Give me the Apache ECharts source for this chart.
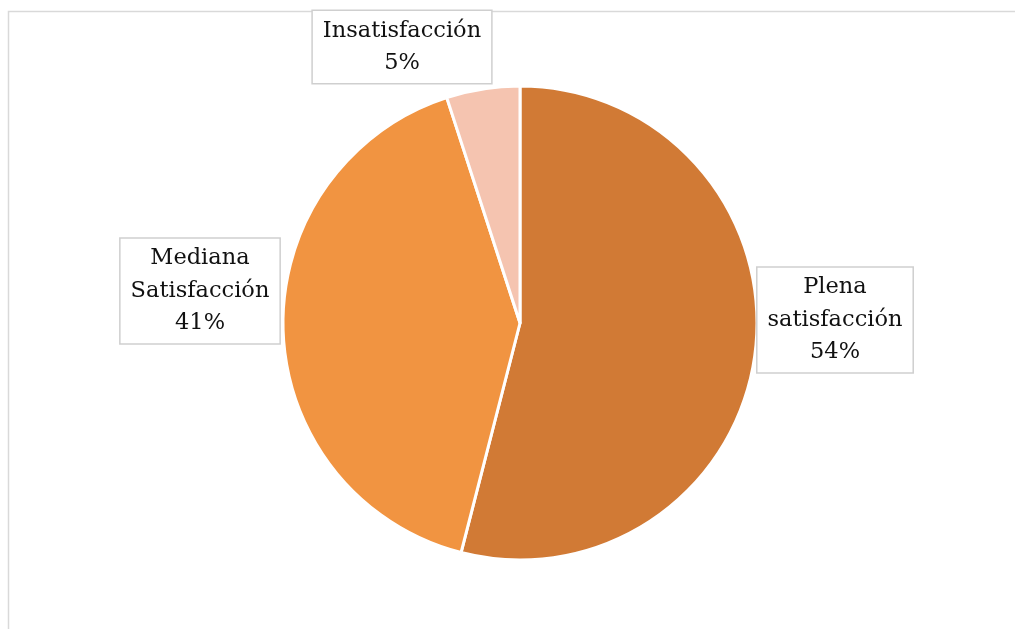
<!DOCTYPE html>
<html>
<head>
<meta charset="utf-8">
<script src="https://cdn.jsdelivr.net/npm/echarts@6/dist/echarts.min.js"></script>
<style>
  html, body { margin: 0; padding: 0; background: #ffffff; }
  #chart { width: 1015px; height: 629px; }
</style>
</head>
<body>
<div id="chart"></div>
<script>
// Satisfaction levels (percent of respondents)
const categories = ['Plena\nsatisfacción', 'Mediana\nSatisfacción', 'Insatisfacción'];
const shares = [54, 41, 5];
const sliceColors = ['#D17A35', '#F19441', '#F5C4B0'];

// Where each label box sits (centre of the box, in pixels)
const labelSpots = [
  { x: 835, y: 320 },
  { x: 200, y: 291 },
  { x: 402, y: 47 }
];

const chart = echarts.init(document.getElementById('chart'), null, { renderer: 'canvas' });

chart.setOption({
  animation: false,
  backgroundColor: '#ffffff',
  graphic: [{
    type: 'rect',
    shape: { x: 8.5, y: 11.5, width: 1200, height: 800 },
    style: { fill: 'none', stroke: '#d9d9d9', lineWidth: 1.5 },
    z: -1
  }],
  series: [{
    type: 'pie',
    center: [520, 323],
    radius: [0, 237],
    startAngle: 90,
    clockwise: true,
    data: categories.map((name, i) => ({
      name: name,
      value: shares[i],
      itemStyle: { color: sliceColors[i] }
    })),
    itemStyle: { borderColor: '#ffffff', borderWidth: 3 },
    labelLine: { show: false },
    label: {
      show: true,
      position: 'outside',
      formatter: '{b}\n{c}%',
      fontFamily: 'DejaVu Serif',
      fontSize: 22.5,
      lineHeight: 32.5,
      color: '#111111',
      align: 'center',
      backgroundColor: '#ffffff',
      borderColor: '#cfcfcf',
      borderWidth: 1.5,
      padding: [6, 10, 1, 10]
    },
    labelLayout: function (params) {
      const s = labelSpots[params.dataIndex];
      return { x: s.x, y: s.y, align: 'center', verticalAlign: 'middle' };
    },
    emphasis: { disabled: true }
  }]
});
</script>
</body>
</html>
